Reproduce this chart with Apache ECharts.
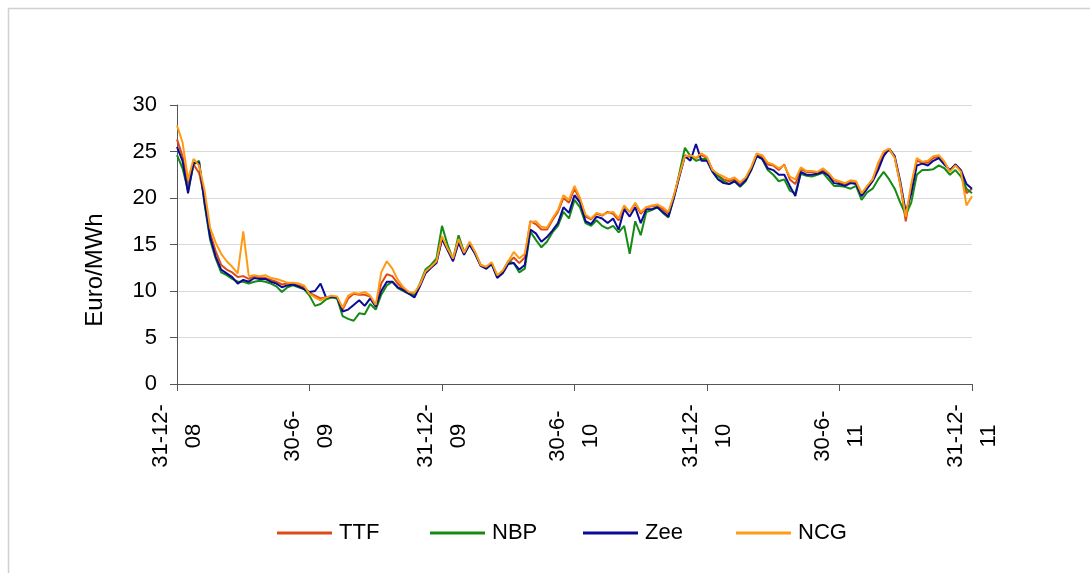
<!DOCTYPE html>
<html>
<head>
<meta charset="utf-8">
<script src="https://cdn.jsdelivr.net/npm/echarts@6/dist/echarts.min.js"></script>
<style>
html,body{margin:0;padding:0;background:#fff;}
#chart{width:1090px;height:573px;}
</style>
</head>
<body>
<div id="chart"></div>
<script>
// x positions in months since 31-12-2008 (step 0.25 month)
const monthSteps = [];
for (let i = 0; i <= 144; i++) monthSteps.push(i / 4);

const tickLabels = ["31-12-\n08", "30-6-\n09", "31-12-\n09", "30-6-\n10", "31-12-\n10", "30-6-\n11", "31-12-\n11"];
const seriesNames = ["TTF", "NBP", "Zee", "NCG"];

const TTF = [
  26.3, 24.5, 21.3, 23.6, 22.7, 20.0, 16.2, 14.3,
  12.8, 12.3, 12.0, 11.5, 11.6, 11.3, 11.6, 11.5,
  11.4, 11.2, 11.0, 10.7, 10.8, 10.8, 10.6, 10.4,
  9.8, 9.5, 9.2, 9.3, 9.4, 9.3, 8.0, 9.2,
  9.7, 9.6, 9.6, 9.4, 8.4, 10.8, 11.8, 11.6,
  10.8, 10.2, 9.8, 9.6, 10.6, 12.0, 12.5, 13.1,
  15.6, 14.5, 13.4, 15.4, 14.0, 15.2, 14.1, 12.8,
  12.5, 13.0, 11.6, 12.0, 13.0, 13.6, 13.0, 13.6,
  17.5, 17.2, 16.6, 16.6, 17.6, 18.5, 20.0, 19.5,
  21.0, 19.8, 18.0, 17.7, 18.3, 18.1, 18.5, 18.3,
  17.6, 19.1, 18.5, 19.4, 18.3, 19.0, 19.1, 19.2,
  18.8, 18.3, 20.2, 22.4, 24.6, 24.4, 24.3, 24.6,
  24.3, 23.0, 22.4, 22.0, 21.8, 22.0, 21.6, 22.1,
  23.2, 24.7, 24.4, 23.6, 23.5, 23.0, 23.6, 22.0,
  21.5, 23.1, 22.8, 22.8, 22.7, 23.0, 22.6, 21.9,
  21.7, 21.5, 21.8, 21.7, 20.4, 21.2, 22.0, 23.5,
  24.8, 25.2, 24.4, 21.5, 17.5, 21.2, 24.0, 23.8,
  23.8, 24.3, 24.5, 23.8, 22.9, 23.6, 22.9, 20.5,
  21.0
];
const NBP = [
  24.6, 23.2, 20.8, 23.6, 24.0, 19.3, 15.5, 13.5,
  12.0, 11.7, 11.3, 11.0, 11.0, 10.8, 11.0, 11.1,
  11.0, 10.8, 10.5, 9.9, 10.4, 10.6, 10.4, 10.2,
  9.5, 8.4, 8.6, 9.1, 9.3, 9.2, 7.3, 7.0,
  6.8, 7.6, 7.5, 8.6, 8.0, 9.6, 10.6, 11.0,
  10.3, 10.0, 9.7, 9.5, 10.8, 12.3, 12.8, 13.5,
  17.0, 15.0, 13.4, 16.0, 14.2, 15.0, 14.0, 12.8,
  12.4, 12.9, 11.6, 12.1, 13.2, 13.0, 12.0, 12.4,
  16.4, 15.5, 14.7, 15.3, 16.3, 17.0, 18.5, 17.8,
  19.8, 19.0, 17.3, 17.0, 17.6, 17.0, 16.7, 17.0,
  16.3, 17.0, 14.0, 17.5, 16.0, 18.5, 18.7, 19.0,
  18.4, 17.9, 20.0, 22.7, 25.4, 24.5, 24.0, 24.2,
  24.2, 23.0, 22.4, 21.8, 21.5, 21.8, 21.2, 21.8,
  23.0, 24.5, 24.2, 23.0, 22.5, 21.8, 22.0, 20.8,
  20.5, 22.6, 22.4, 22.3, 22.5, 22.7, 22.0, 21.3,
  21.3, 21.2, 21.0, 21.3, 19.8, 20.6, 21.0, 22.0,
  22.8, 22.0, 21.0, 19.5, 18.2, 19.5, 22.5, 23.0,
  23.0, 23.1, 23.5, 23.2, 22.5, 23.0, 22.3, 21.0,
  20.5
];
const Zee = [
  25.5, 24.0, 20.5, 23.8, 23.8, 19.5, 15.8, 13.7,
  12.3, 11.9, 11.5, 10.8, 11.2, 11.0, 11.4, 11.3,
  11.3, 11.0, 10.8, 10.4, 10.6, 10.7, 10.5, 10.2,
  9.9, 10.0, 10.8, 9.3, 9.4, 9.3, 7.8, 8.0,
  8.5, 9.0, 8.4, 9.2, 8.3, 10.0, 11.0, 11.0,
  10.4, 10.1, 9.7, 9.3, 10.5, 11.9, 12.5, 13.0,
  15.6, 14.4, 13.2, 15.2, 13.9, 15.0, 14.0, 12.7,
  12.4, 12.9, 11.4, 11.9, 12.9, 13.0, 12.3, 12.8,
  16.6, 16.2, 15.3, 15.8, 16.5, 17.3, 19.0, 18.4,
  20.3, 19.5, 17.5, 17.2, 18.0, 17.8, 17.3, 17.8,
  16.6, 18.8, 18.0, 19.0, 17.3, 18.8, 18.8, 19.0,
  18.5, 18.0, 20.0, 22.3, 24.5, 24.0, 25.8, 24.0,
  24.0, 22.8, 22.0, 21.6, 21.5, 21.8, 21.3, 21.9,
  23.0, 24.5, 24.2, 23.2, 23.0, 22.5, 22.5, 21.3,
  20.2, 22.8, 22.5, 22.5, 22.6, 22.8, 22.4, 21.6,
  21.5, 21.3, 21.6, 21.5, 20.2, 21.0, 21.8, 23.0,
  24.5, 25.3, 24.5, 21.8, 18.5, 20.5, 23.5, 23.7,
  23.5, 24.0, 24.3, 23.6, 23.0, 23.6, 23.0, 21.5,
  21.0
];
const NCG = [
  27.8, 26.0, 22.0, 24.2, 23.5, 20.8, 16.8, 15.2,
  14.0, 13.2, 12.6, 11.9, 16.4, 11.6, 11.7, 11.6,
  11.7, 11.4, 11.3, 11.1, 10.9, 10.9, 10.8, 10.6,
  9.7, 9.3, 9.0, 9.3, 9.5, 9.4, 8.2, 9.5,
  9.8, 9.7, 9.9, 9.5, 8.5, 12.0, 13.2, 12.4,
  11.2, 10.4, 9.9, 9.8, 10.7, 12.1, 12.6, 13.2,
  15.9, 14.6, 13.5, 15.6, 14.1, 15.3, 14.2, 12.8,
  12.6, 13.1, 11.7, 12.2, 13.2, 14.2, 13.5, 14.0,
  17.4, 17.5, 16.9, 16.8, 17.8, 18.7, 20.3, 19.8,
  21.3, 20.0, 18.2, 17.8, 18.4, 18.2, 18.4, 18.5,
  17.8, 19.2, 18.5, 19.5, 18.5, 19.0, 19.2, 19.3,
  19.0, 18.5, 20.3, 22.5, 24.5, 24.6, 24.3, 24.8,
  24.4, 23.0, 22.6, 22.3, 22.0, 22.2, 21.7, 22.2,
  23.3, 24.8, 24.6, 23.8, 23.6, 23.2, 23.5, 22.3,
  22.0, 23.3, 22.9, 22.9, 22.8, 23.2, 22.7, 22.0,
  21.8, 21.6, 21.9, 21.8, 20.5, 21.3, 22.0, 23.8,
  25.0, 25.3, 24.3, 21.5, 18.0, 21.5, 24.3, 23.9,
  24.0, 24.5, 24.6, 23.9, 22.8, 23.5, 22.8, 19.2,
  20.2
];

const colors = ["#DD4A14", "#148C14", "#0A0A96", "#FF9A14"];
const allValues = [TTF, NBP, Zee, NCG];

const FONT = "Liberation Sans";
const chart = echarts.init(document.getElementById('chart'), null, {renderer: 'canvas'});
const option = {
  animation: false,
  backgroundColor: '#fff',
  color: colors,
  grid: {left: 177, right: 118, top: 105, bottom: 189, containLabel: false},
  legend: seriesNames.map(function (name, i) {
    return {
      left: 272 + i * 153, top: 517,
      itemWidth: 55, itemHeight: 3, icon: 'rect',
      textStyle: {fontFamily: FONT, fontSize: 22, color: '#000', padding: [0, 0, 0, 2]},
      data: [name]
    };
  }),
  xAxis: {
    type: 'value', min: 0, max: 36, interval: 6,
    axisLine: {show: true, lineStyle: {color: '#555', width: 1}},
    axisTick: {show: true, length: 7, inside: false, lineStyle: {color: '#555'}},
    splitLine: {show: false},
    axisLabel: {
      rotate: 90, margin: 52, align: 'center', verticalAlign: 'middle',
      fontFamily: FONT, fontSize: 22, color: '#000', lineHeight: 33,
      formatter: function (v) { return tickLabels[Math.round(v / 6)]; }
    }
  },
  yAxis: {
    type: 'value', min: 0, max: 30, interval: 5,
    axisLine: {show: true, lineStyle: {color: '#555', width: 1}},
    axisTick: {show: true, length: 7, inside: false, lineStyle: {color: '#555'}},
    splitLine: {show: true, lineStyle: {color: '#D9D9D9', width: 1}},
    axisLabel: {margin: 20, fontFamily: FONT, fontSize: 22, color: '#000'}
  },
  graphic: [
    {type: 'rect', shape: {x: 8.5, y: 8.5, width: 1200, height: 700}, style: {fill: null, stroke: '#D0D0D0', lineWidth: 1.5}, silent: true},
    {type: 'text', x: 95, y: 270, rotation: Math.PI / 2,
     style: {text: 'Euro/MWh', align: 'center', verticalAlign: 'middle', font: '24px "Liberation Sans"', fill: '#000'}}
  ],
  series: seriesNames.map(function (name, k) {
    return {
      name: name, type: 'line', symbol: 'none', showSymbol: false,
      lineStyle: {width: 2, color: colors[k]},
      itemStyle: {color: colors[k]},
      data: monthSteps.map(function (m, i) { return [m, allValues[k][i]]; })
    };
  })
};
chart.setOption(option);
</script>
</body>
</html>
